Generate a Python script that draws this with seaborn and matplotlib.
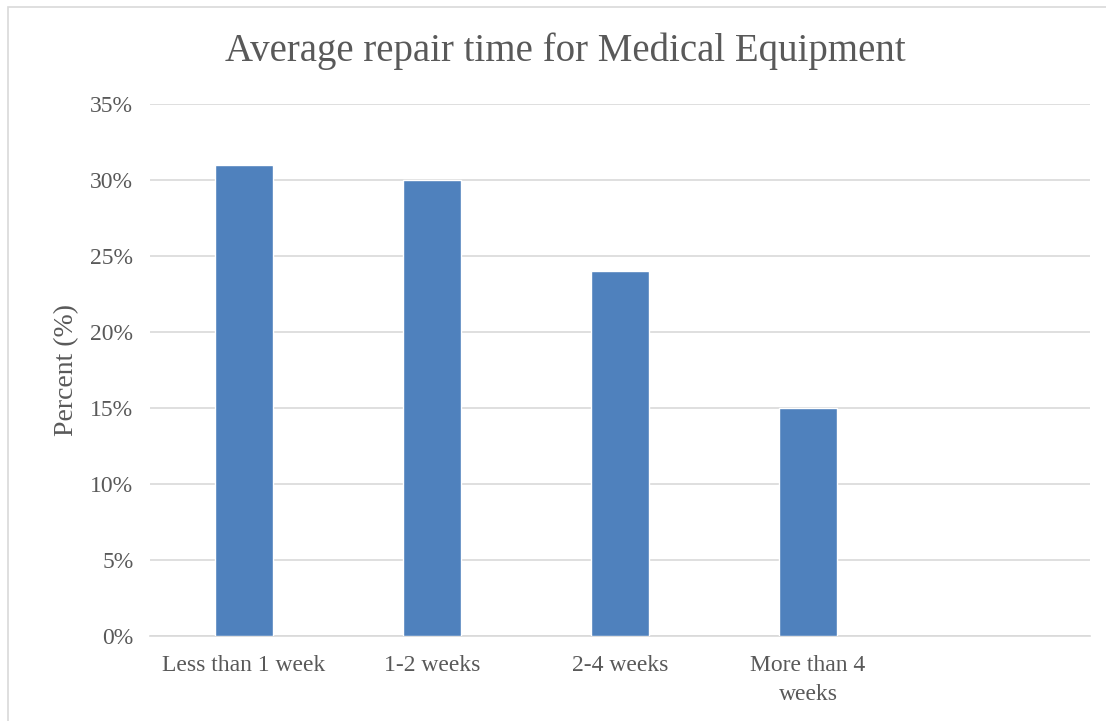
import pandas as pd
import matplotlib
matplotlib.use("Agg")
import matplotlib.pyplot as plt
import seaborn as sns
from matplotlib.patches import Rectangle
from matplotlib.ticker import FuncFormatter

# data
categories = ["Less than 1 week", "1-2 weeks", "2-4 weeks", "More than 4\nweeks"]
percent = [31, 30, 24, 15]
y_ticks = [0, 5, 10, 15, 20, 25, 30, 35]

df = pd.DataFrame({"category": categories, "percent": percent})

sns.set_theme(style="white")
plt.rcParams["font.family"] = ["Liberation Serif", "DejaVu Serif"]

text_col = "#595959"
grid_col = "#D9D9D9"

fig = plt.figure(figsize=(11.06, 7.21), dpi=100)
ax = fig.add_axes([150 / 1106, 1 - 636 / 721, 940 / 1106, 532 / 721])

sns.barplot(data=df, x="category", y="percent", color="#4F81BD",
            saturation=1, width=0.31, ax=ax, zorder=3)

# fifth (empty) slot like the original
ax.set_xlim(-0.5, 4.5)
ax.set_ylim(0, 35)
ax.set_yticks(y_ticks)
ax.yaxis.set_major_formatter(FuncFormatter(lambda v, p: f"{v:.0f}%"))
ax.grid(axis="y", color=grid_col, linewidth=1.2, zorder=0)

for s in ["top", "right", "left"]:
    ax.spines[s].set_visible(False)
ax.spines["bottom"].set_color(grid_col)
ax.spines["bottom"].set_linewidth(1.2)

ax.tick_params(axis="both", length=0, labelsize=17, colors=text_col)
ax.tick_params(axis="y", pad=12)
ax.tick_params(axis="x", pad=14)
for lbl in ax.get_xticklabels():
    lbl.set_linespacing(1.5)
ax.set_xlabel("")
ax.set_ylabel("Percent (%)", fontsize=20, color=text_col, labelpad=8)

fig.suptitle("Average repair time for Medical Equipment", fontsize=28,
             color=text_col, x=565 / 1106, y=1 - 51 / 721, va="center")

# chart frame
fig.patches.append(Rectangle((8 / 1106, -0.01), 1.1, 1 - 7 / 721 + 0.01,
                             transform=fig.transFigure, fill=False,
                             edgecolor=grid_col, linewidth=1.2))

fig.savefig("out.png", dpi=100)
